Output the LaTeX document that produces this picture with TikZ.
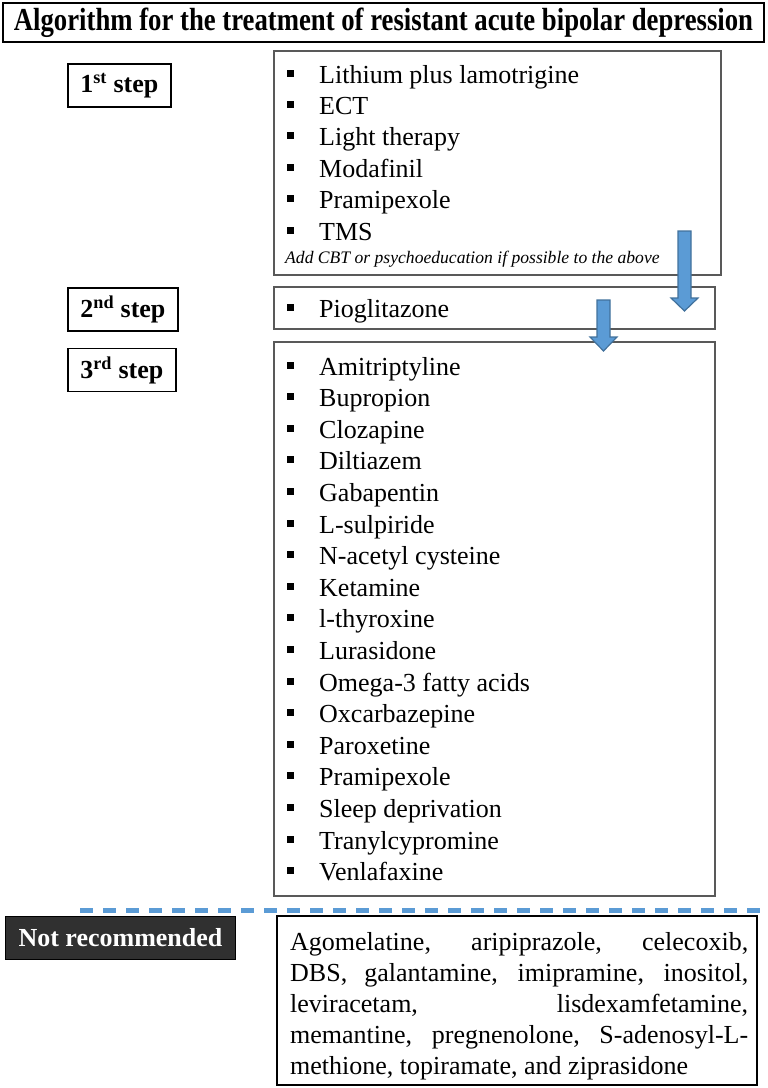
\documentclass[tikz,border=0pt]{standalone}
\usepackage{fontspec}
\setmainfont{Liberation Serif}
\usetikzlibrary{positioning}

\definecolor{arrowblue}{HTML}{5B9BD5}
\definecolor{arrowedge}{HTML}{41719C}
\definecolor{darkbox}{HTML}{303030}
\definecolor{boxgray}{HTML}{595959}

\begin{document}
\begin{tikzpicture}[x=1pt,y=-1pt,
  stepbox/.style={draw,line width=1.8pt,anchor=west,minimum height=43pt,inner xsep=12.5pt,
    font=\fontsize{26}{26}\selectfont\bfseries},
  listbox/.style={draw=boxgray,line width=1.2pt},
  item/.style={anchor=base west,inner sep=0pt,font=\fontsize{26}{26}\selectfont},
  blockarrow/.style={fill=arrowblue,draw=arrowedge,line width=1.2pt,line join=miter},
  sepline/.style={draw=arrowblue,line width=5pt,dash pattern=on 13pt off 10pt}]

\useasboundingbox (0,0) rectangle (768,1088);

% title
\node[draw,line width=1.8pt,minimum width=761pt,minimum height=39pt,inner sep=0pt,
  font=\fontsize{32}{32}\selectfont\bfseries] (title) at (383.5,22.5)
  {\scalebox{0.835}[1]{Algorithm for the treatment of resistant acute bipolar depression}};

% steps
\node[stepbox] (step1) at (67,85.5) {1\textsuperscript{st} step};
\node[stepbox] (step2) at (67,309.5) {2\textsuperscript{nd} step};
\node[stepbox] (step3) at (67,370) {3\textsuperscript{rd} step};

% treatment boxes
\draw[listbox] (274,51) rectangle (721,275);
\draw[listbox] (274,287) rectangle (715,329);
\draw[listbox] (274,342) rectangle (715,896);

\foreach \drug [count=\i] in {Lithium plus lamotrigine,ECT,Light therapy,Modafinil,Pramipexole,TMS}
  \node[item] (first\i) at (287,{83+(\i-1)*31.4}) {\rule[6.5pt]{7pt}{7pt}\hspace{25pt}\drug};
\node[anchor=base west,inner sep=0pt,font=\fontsize{17.6}{17.6}\selectfont\itshape] (note)
  at (285,263) {Add CBT or psychoeducation if possible to the above};

\node[item] (second1) at (287,317) {\rule[6.5pt]{7pt}{7pt}\hspace{25pt}Pioglitazone};

\foreach \drug [count=\i] in {Amitriptyline,Bupropion,Clozapine,Diltiazem,Gabapentin,L-sulpiride,
  N-acetyl cysteine,Ketamine,l-thyroxine,Lurasidone,Omega-3 fatty acids,Oxcarbazepine,
  Paroxetine,Pramipexole,Sleep deprivation,Tranylcypromine,Venlafaxine}
  \node[item] (third\i) at (287,{375+(\i-1)*31.6}) {\rule[6.5pt]{7pt}{7pt}\hspace{25pt}\drug};

% arrows between steps
\draw[blockarrow] (678,231) -- (691,231) -- (691,298) -- (698,298) -- (684.5,311)
  -- (671,298) -- (678,298) -- cycle;
\draw[blockarrow] (597,300) -- (610,300) -- (610,337) -- (617,337) -- (603.5,351)
  -- (590,337) -- (597,337) -- cycle;

% separator
\draw[sepline] (80,910) -- (780,910);

% not recommended
\node[fill=darkbox,draw=black,line width=1pt,anchor=west,minimum height=43pt,inner xsep=13pt,
  text=white,font=\fontsize{26}{26}\selectfont\bfseries] (notrec) at (5,937.5) {Not recommended};
\draw[line width=1.8pt] (277,916) rectangle (757,1085);
\node[anchor=north west,text width=458pt,inner sep=0pt,align=justify,
  font=\fontsize{26}{31}\selectfont] (notlist) at (290,932)
  {Agomelatine, aripiprazole, celecoxib,\linebreak
   DBS, galantamine, imipramine, inositol,\linebreak
   leviracetam, lisdexamfetamine,\linebreak
   memantine, pregnenolone, S-adenosyl-L-\linebreak
   methione, topiramate, and ziprasidone};

\end{tikzpicture}
\end{document}
